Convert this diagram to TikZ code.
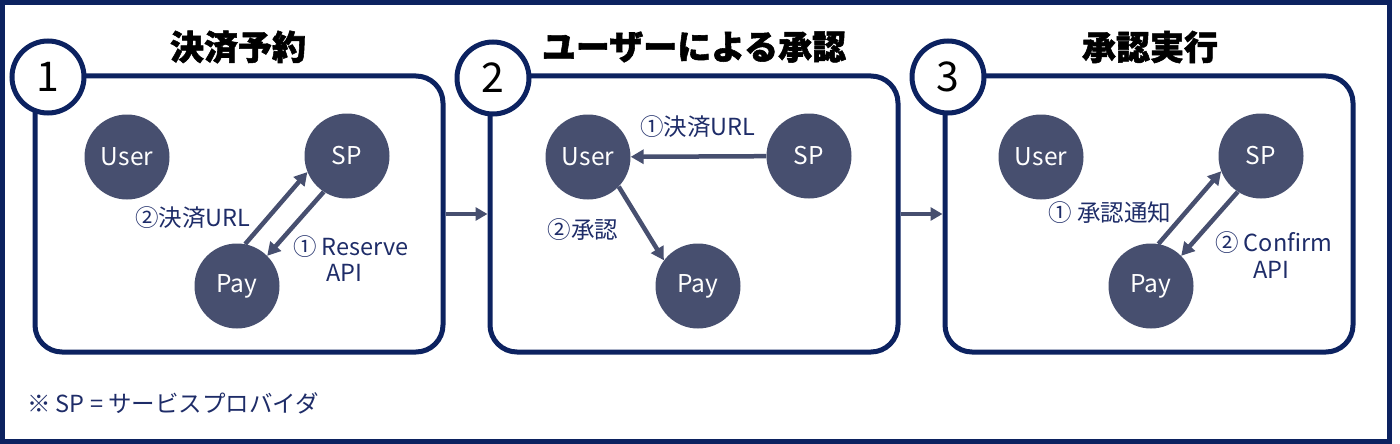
\documentclass[tikz,border=0pt]{standalone}
\usepackage{fontspec}
\setmainfont{Noto Sans CJK JP}
\newfontfamily\ttlfont{Noto Sans CJK JP}[BoldFeatures={FakeBold=1.6}]
\usetikzlibrary{arrows.meta,calc}
\definecolor{navy}{RGB}{12,34,96}
\definecolor{slate}{RGB}{71,79,111}
\definecolor{lbl}{RGB}{30,44,104}
\tikzset{
 ent/.style={circle, fill=slate, minimum size=85, inner sep=0, text=white, font=\fontsize{24.5}{27}\selectfont},
 num/.style={circle, draw=navy, fill=white, line width=5, minimum size=72, inner sep=0, font=\fontsize{41}{44}\selectfont},
 panel/.style={draw=navy, line width=5, rounded corners=27, minimum width=408, minimum height=276, inner sep=0},
 ttl/.style={font=\fontsize{34}{38}\ttlfont\bfseries, inner sep=0},
 lab/.style={text=lbl, font=\fontsize{23.5}{26}\selectfont, inner sep=0},
 arr/.style={slate, line width=4.5, -{Triangle[length=13,width=14]}},
 parr/.style={slate, line width=4, -{Triangle[length=12,width=13]}}
}
\begin{document}
\begin{tikzpicture}[x=1pt,y=-1pt]
\useasboundingbox (0,0) rectangle (1400,444);
\draw[navy, line width=5] (2.5,2.5) rectangle (1389,441.5);

% panels
\node[panel] (p1) at (239,214) {};
\node[panel] (p2) at (694,214) {};
\node[panel] (p3) at (1149,214) {};
\node[num] (n1) at (48,77) {1};
\node[num] (n2) at (493,78) {2};
\node[num] (n3) at (948,77) {3};
\node[ttl] (t1) at (238,47) {決済予約};
\node[ttl] (t2) at (694,47) {ユーザーによる承認};
\node[ttl] (t3) at (1150,47) {承認実行};

\draw[parr] (p1.east) -- (p2.west);
\draw[parr] (p2.east) -- (p3.west);

% panel 1
\node[ent] (u1) at (127,157) {User};
\node[ent] (s1) at (347,156) {SP};
\node[ent] (y1) at (237,286) {Pay};
\draw[arr] (y1.79) -- (s1.202);
\draw[arr] (s1.237) -- (y1.45);
\node[lab] (l1a) at (193,218) {②決済URL};
\node[lab, anchor=west] (l1b) at (293,247) {① Reserve};
\node[lab, anchor=west] (l1c) at (326,273) {API};

% panel 2
\node[ent] (u2) at (588,157) {User};
\node[ent] (s2) at (809,156) {SP};
\node[ent] (y2) at (698,286) {Pay};
\draw[arr] (s2) -- (u2);
\draw[arr] (u2.316) -- (y2.143);
\node[lab] (l2a) at (698,127) {①決済URL};
\node[lab] (l2b) at (583,230) {②承認};

% panel 3
\node[ent] (u3) at (1041,157) {User};
\node[ent] (s3) at (1261,156) {SP};
\node[ent] (y3) at (1151,286) {Pay};
\draw[arr] (y3.80) -- (s3.201);
\draw[arr] (s3.237) -- (y3.45);
\node[lab] (l3a) at (1110,213) {① 承認通知};
\node[lab, anchor=west] (l3b) at (1215,243) {② Confirm};
\node[lab, anchor=west] (l3c) at (1253,270) {API};

% footnote
\node[lab, anchor=west] (fn) at (27,403) {※ SP = サービスプロバイダ};
\end{tikzpicture}
\end{document}
